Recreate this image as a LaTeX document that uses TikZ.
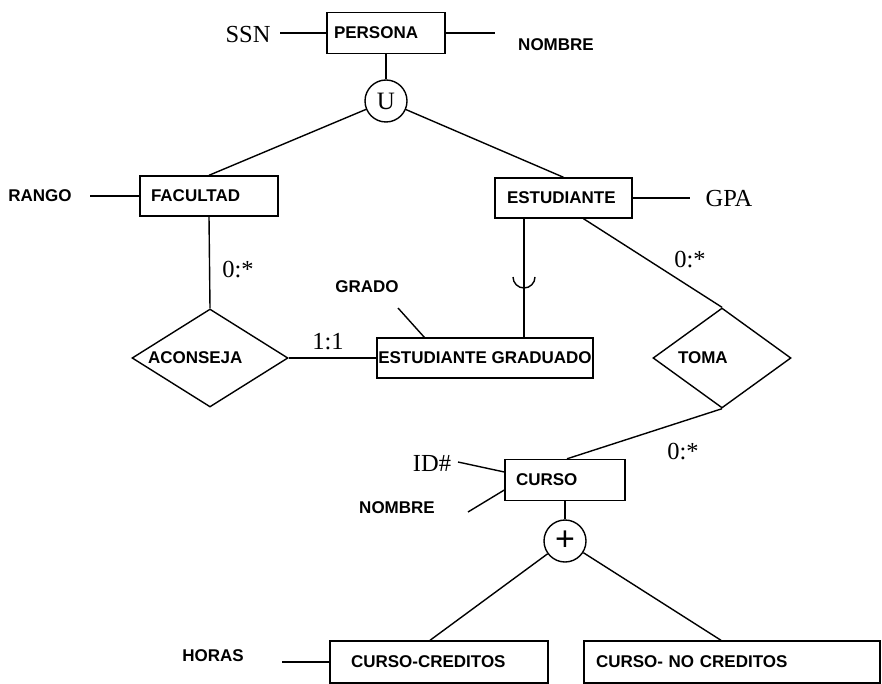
\documentclass[tikz,border=0pt]{standalone}
\usepackage{fontspec}
\setmainfont{Liberation Serif}
\setsansfont{Liberation Sans}
\usetikzlibrary{shapes.geometric,calc}
\begin{document}
\begin{tikzpicture}[x=1pt,y=-1pt,line width=1.4pt,
  bf/.style={font=\sffamily\bfseries\fontsize{17}{19}\selectfont},
  ent/.style={draw,bf,align=left,inner ysep=0pt,minimum height=41pt},
  rel/.style={draw,diamond,bf,align=left,inner sep=0pt,shape aspect=1.6},
  ser/.style={font=\rmfamily\fontsize{24.5}{26}\selectfont},
  opc/.style={draw,circle,inner sep=0pt,minimum size=42pt,font=\rmfamily\fontsize{25}{27}\selectfont}]
\useasboundingbox[fill=white] (0,0) rectangle (882,684);
% entities
\node[ent,text width=104pt,inner xsep=7pt] (per) at (386,33) {PERSONA};
\node[ent,text width=116pt,inner xsep=11pt,minimum height=40pt] (fac) at (209,196) {FACULTAD};
\node[ent,text width=113pt,inner xsep=12pt,minimum height=40pt] (est) at (563.5,198) {ESTUDIANTE};
\node[ent,inner xsep=0pt,minimum width=216pt,minimum height=40pt] (eg) at (485,358) {ESTUDIANTE GRADUADO};
\node[ent,text width=98pt,inner xsep=11pt] (cur) at (565,480) {CURSO};
\node[ent,text width=176pt,inner xsep=21pt,minimum height=42pt] (cc) at (439,662) {CURSO-CREDITOS};
\node[ent,text width=272pt,inner xsep=12pt,minimum height=42pt] (cnc) at (732,662) {CURSO- NO CREDITOS};
% relationships
\node[rel,text width=124pt,minimum width=156pt,minimum height=98pt] (acon) at (210,358) {ACONSEJA};
\node[rel,text width=88pt,minimum width=138pt,minimum height=100pt] (toma) at (722,358) {TOMA};
% operators
\node[opc] (u) at (386,101) {U};
\node[opc,font=\sffamily\fontsize{34}{34}\selectfont] (plus) at (565,541) {+};
% attributes
\node[ser] (ssn) at (248,35) {SSN};
\node[bf] (nom1) at (556,45) {NOMBRE};
\node[bf] (rango) at (40,196) {RANGO};
\node[ser] (gpa) at (729,199) {GPA};
\node[bf] (grado) at (367,287) {GRADO};
\node[ser] (id) at (432,463) {ID\#};
\node[bf] (nom2) at (397,508) {NOMBRE};
\node[bf] (horas) at (213,656) {HORAS};
% cardinalities
\node[ser] (c1) at (238,270) {0:*};
\node[ser] (c2) at (328,342) {1:1};
\node[ser] (c3) at (690,260) {0:*};
\node[ser] (c4) at (683,452) {0:*};
% free ends
\coordinate (ssnE) at (280,33);
\coordinate (nomE) at (495,33);
\coordinate (rangoE) at (90,196);
\coordinate (gpaE) at (690,198);
\coordinate (gradoE) at (398,308);
\coordinate (idE) at (458,462);
\coordinate (nom2E) at (468,512);
\coordinate (horasE) at (282,662);
% connectors
\draw (ssnE) -- (per.west);
\draw (per.east) -- (nomE);
\draw (per.south) -- (u);
\draw (u) -- (fac.north);
\draw (u) -- (est.north);
\draw (rangoE) -- (fac.west);
\draw (est.east) -- (gpaE);
\draw (fac.south) -- (acon.north);
\draw (acon.east) -- (eg.west);
\draw (gradoE) -- ([xshift=48pt]eg.north west);
\draw ([xshift=-39.5pt]est.south) -- ([xshift=39pt]eg.north);
\draw (513,277) arc (180:0:11);
\draw ([xshift=20pt]est.south) -- (toma.north);
\draw (toma.south) -- ([xshift=2pt]cur.north);
\draw (idE) -- ([yshift=8pt]cur.west);
\draw (nom2E) -- ([yshift=-10pt]cur.west);
\draw (cur.south) -- (plus);
\draw (plus) -- ([xshift=-9pt]cc.north);
\draw (plus) -- ([xshift=-11pt]cnc.north);
\draw (horasE) -- (cc.west);
\end{tikzpicture}
\end{document}
